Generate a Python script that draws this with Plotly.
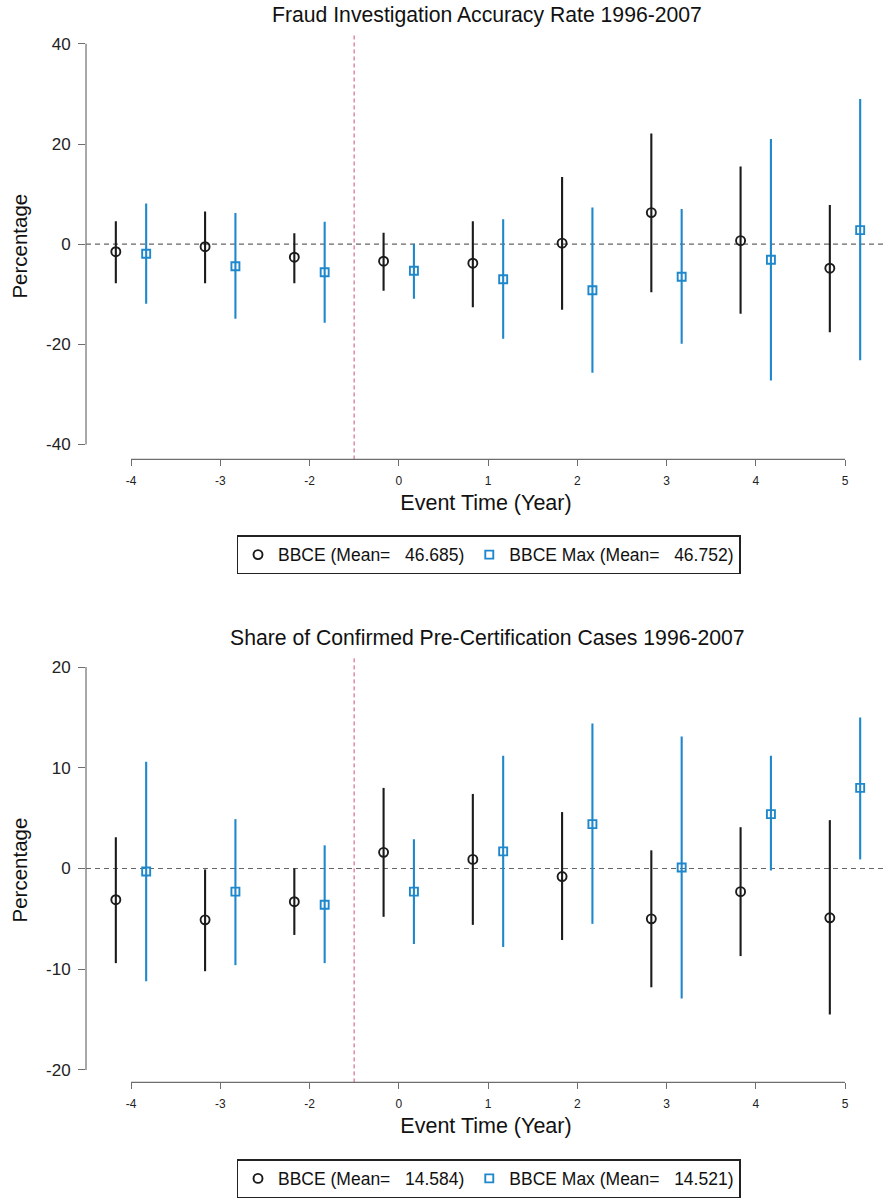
import numpy as np
import plotly.graph_objects as go

# Event years relative to the change (year -1 is the omitted reference year)
event_years = [-4, -3, -2, 0, 1, 2, 3, 4, 5]
tick_labels = [str(v) for v in event_years]

# Panel A: fraud investigation accuracy rate
fraud_bbce_est = [-1.5, -0.5, -2.6, -3.4, -3.8, 0.2, 6.3, 0.7, -4.8]
fraud_bbce_lo = [-7.8, -7.8, -7.8, -9.3, -12.6, -13.1, -9.6, -13.9, -17.6]
fraud_bbce_hi = [4.6, 6.5, 2.2, 2.3, 4.6, 13.4, 22.1, 15.5, 7.8]
fraud_max_est = [-1.9, -4.4, -5.6, -5.3, -7.0, -9.2, -6.5, -3.1, 2.8]
fraud_max_lo = [-11.9, -14.9, -15.7, -10.9, -18.9, -25.7, -19.9, -27.2, -23.2]
fraud_max_hi = [8.1, 6.2, 4.5, 0.1, 5.0, 7.3, 7.0, 21.0, 29.0]
fraud_means = [46.685, 46.752]
fraud_yticks = [-40, -20, 0, 20, 40]

# Panel B: share of confirmed pre-certification cases
share_bbce_est = [-3.1, -5.1, -3.3, 1.6, 0.9, -0.8, -5.0, -2.3, -4.9]
share_bbce_lo = [-9.4, -10.2, -6.6, -4.8, -5.6, -7.1, -11.8, -8.7, -14.5]
share_bbce_hi = [3.1, -0.1, 0.0, 8.0, 7.4, 5.6, 1.8, 4.1, 4.8]
share_max_est = [-0.3, -2.3, -3.6, -2.3, 1.7, 4.4, 0.1, 5.4, 8.0]
share_max_lo = [-11.2, -9.6, -9.4, -7.5, -7.8, -5.5, -12.9, -0.2, 0.9]
share_max_hi = [10.6, 4.9, 2.3, 2.9, 11.2, 14.4, 13.1, 11.2, 15.0]
share_means = [14.584, 14.521]
share_yticks = [-20, -10, 0, 10, 20]

FONT = "Liberation Sans, Arial, Helvetica, sans-serif"
BLACK = "#1b1b1b"
BLUE = "#1f88cc"
AXIS_GRAY = "#6e6e6e"
REF_RED = "#cf4f7c"

W, H = 886, 1198
pos = np.arange(1, len(event_years) + 1, dtype=float)
shift = 0.17
# vertical reference line sits where the omitted year -1 would be
ref_x = (pos[event_years.index(-2)] + pos[event_years.index(0)]) / 2


def fmt_mean(v):
    # Stata-style %9.3f: right-aligned in a 9-character field
    return f"{v:9.3f}".replace(" ", "\u00a0")


fig = go.Figure()


def add_series(est, lo, hi, dx, xa, ya, legend, name, symbol, color, size):
    est = np.asarray(est, dtype=float)
    lo = np.asarray(lo, dtype=float)
    hi = np.asarray(hi, dtype=float)
    fig.add_trace(go.Scatter(
        x=pos + dx, y=est, mode="markers", name=name,
        xaxis=xa, yaxis=ya, legend=legend,
        marker=dict(symbol=symbol, size=size, color=color,
                    line=dict(width=1.9, color=color)),
        error_y=dict(type="data", symmetric=False, array=hi - est,
                     arrayminus=est - lo, color=color, thickness=2.1, width=0),
    ))


add_series(fraud_bbce_est, fraud_bbce_lo, fraud_bbce_hi, -shift, "x", "y", "legend",
           f"BBCE (Mean={fmt_mean(fraud_means[0])})", "circle-open", BLACK, 9)
add_series(fraud_max_est, fraud_max_lo, fraud_max_hi, shift, "x", "y", "legend",
           f"BBCE Max (Mean={fmt_mean(fraud_means[1])})", "square-open", BLUE, 8)
add_series(share_bbce_est, share_bbce_lo, share_bbce_hi, -shift, "x2", "y2", "legend2",
           f"BBCE (Mean={fmt_mean(share_means[0])})", "circle-open", BLACK, 9)
add_series(share_max_est, share_max_lo, share_max_hi, shift, "x2", "y2", "legend2",
           f"BBCE Max (Mean={fmt_mean(share_means[1])})", "square-open", BLUE, 8)


def py(px):
    return 1 - px / H


x_dom = [86 / W, 1.0]
x_rng = [1 - 45 / 89.25, 9 + 41 / 89.25]

xaxis_common = dict(
    domain=x_dom, range=x_rng, tickmode="array", tickvals=pos, ticktext=tick_labels,
    ticks="outside", ticklen=6, tickwidth=1.2, tickcolor=AXIS_GRAY,
    showline=False, showgrid=False, zeroline=False, ticklabelstandoff=4,
    tickfont=dict(size=12, color="#222", family=FONT),
    title=dict(text="Event Time (Year)", font=dict(size=21.5, color="#111", family=FONT),
               standoff=8),
)
yaxis_common = dict(
    ticks="outside", ticklen=7, tickwidth=1.2, tickcolor=AXIS_GRAY,
    showline=False, showgrid=False, zeroline=False, ticklabelstandoff=4,
    tickfont=dict(size=17, color="#222", family=FONT),
    title=dict(text="Percentage", font=dict(size=20.5, color="#111", family=FONT),
               standoff=12),
)

fig.update_layout(
    width=W, height=H,
    margin=dict(l=0, r=0, t=0, b=0),
    paper_bgcolor="white", plot_bgcolor="white",
    font=dict(family=FONT, color="#111"),
    xaxis=dict(anchor="y", **xaxis_common),
    xaxis2=dict(anchor="y2", **xaxis_common),
    yaxis=dict(anchor="x", domain=[py(461), py(33)], range=[-42.99, 42.19],
               tickmode="array", tickvals=fraud_yticks,
               ticktext=[str(v) for v in fraud_yticks], **yaxis_common),
    yaxis2=dict(anchor="x2", domain=[py(1086), py(660)], range=[-21.24, 20.92],
                tickmode="array", tickvals=share_yticks,
                ticktext=[str(v) for v in share_yticks], **yaxis_common),
    legend=dict(orientation="h", x=488.5 / W, xanchor="center", y=py(537), yanchor="top",
                bordercolor="#222", borderwidth=1.5, bgcolor="white",
                font=dict(size=17.5, color="#111", family=FONT)),
    legend2=dict(orientation="h", x=488.5 / W, xanchor="center", y=py(1163), yanchor="top",
                 bordercolor="#222", borderwidth=1.5, bgcolor="white",
                 font=dict(size=17.5, color="#111", family=FONT)),
    showlegend=True,
)

panel_titles = [
    ("Fraud Investigation Accuracy Rate 1996-2007", 15),
    ("Share of Confirmed Pre-Certification Cases 1996-2007", 640),
]
for text, ypx in panel_titles:
    fig.add_annotation(text=text, xref="paper", yref="paper", x=487 / W, y=py(ypx),
                       xanchor="center", yanchor="middle", showarrow=False,
                       font=dict(size=21.2, color="#111", family=FONT))

for xa, ya, ylim in [("x", "y", 40), ("x2", "y2", 20)]:
    # y axis line spanning the labelled tick range
    fig.add_shape(type="line", xref=f"{xa} domain", x0=0, x1=0, yref=ya, y0=-ylim, y1=ylim,
                  line=dict(color=AXIS_GRAY, width=1.2))
    # x axis line spanning first to last event year
    fig.add_shape(type="line", xref=xa, x0=pos[0], x1=pos[-1], yref=f"{ya} domain", y0=0, y1=0,
                  line=dict(color=AXIS_GRAY, width=1.2))
    # zero reference
    fig.add_shape(type="line", xref=f"{xa} domain", x0=0, x1=1, yref=ya, y0=0, y1=0,
                  line=dict(color="#666", width=1.2, dash="5px,4px"), layer="below")
    # omitted-year divider
    fig.add_shape(type="line", xref=xa, x0=ref_x, x1=ref_x, yref=f"{ya} domain", y0=0, y1=1,
                  line=dict(color=REF_RED, width=1, dash="4px,3px"), layer="below")

fig.write_html("out.html")
